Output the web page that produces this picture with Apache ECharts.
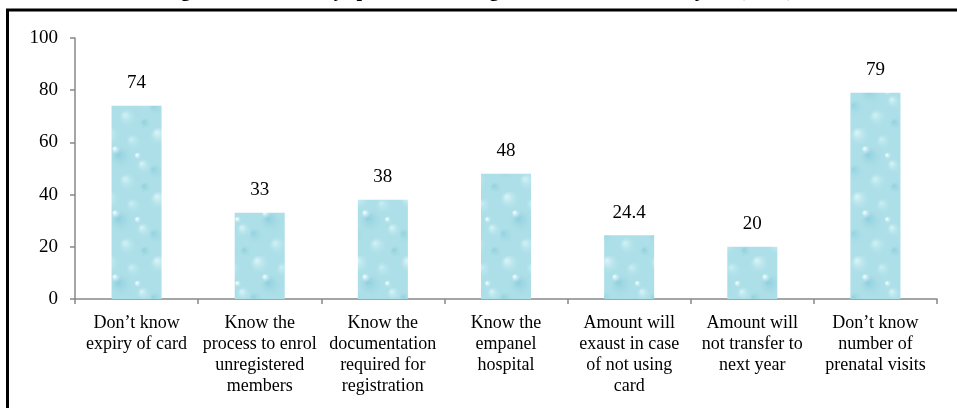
<!DOCTYPE html>
<html>
<head>
<meta charset="utf-8">
<script src="https://cdn.jsdelivr.net/npm/echarts@6/dist/echarts.min.js"></script>
<style>
  html, body { margin: 0; padding: 0; background: #ffffff; }
  #chart { width: 957px; height: 408px; }
</style>
</head>
<body>
<div id="chart"></div>
<script>
// Knowledge items and percentage of respondents
const categories = [
  'Don\u2019t know\nexpiry of card',
  'Know the\nprocess to enrol\nunregistered\nmembers',
  'Know the\ndocumentation\nrequired for\nregistration',
  'Know the\nempanel\nhospital',
  'Amount will\nexaust in case\nof not using\ncard',
  'Amount will\nnot transfer to\nnext year',
  'Don\u2019t know\nnumber of\nprenatal visits'
];
const values = [74, 33, 38, 48, 24.4, 20, 79];
const yTicks = { min: 0, max: 100, interval: 20 };
const titleText = 'Figure 5: Beneficiary specific knowledge about Bhamashah Yojana (n=50)';

// Water-drop texture used to fill the bars
function makeTexture() {
  const c = document.createElement('canvas');
  c.width = 50; c.height = 64;
  const g = c.getContext('2d');
  g.fillStyle = '#addfe8';
  g.fillRect(0, 0, c.width, c.height);
  const drops = [
    [10, 8, 11, '#d6f2f6'], [34, 14, 9, '#c4ecf2'], [22, 30, 13, '#92d1de'],
    [44, 38, 8, '#d0f0f5'], [6, 44, 9, '#98d5e1'], [28, 54, 10, '#cdeff4'],
    [46, 60, 7, '#96d3df'], [16, 22, 5, '#e4f7fa'], [38, 28, 4, '#e8f8fb']
  ];
  drops.forEach(([x, y, r, col]) => {
    const rg = g.createRadialGradient(x - r * 0.3, y - r * 0.3, 1, x, y, r);
    rg.addColorStop(0, col);
    rg.addColorStop(1, 'rgba(173,223,232,0)');
    g.fillStyle = rg;
    for (const dx of [-50, 0, 50]) {
      for (const dy of [-64, 0, 64]) {
        g.beginPath();
        g.arc(x + dx, y + dy, r, 0, Math.PI * 2);
        g.fill();
      }
    }
  });
  return c;
}

const serif = '"Liberation Serif", "Times New Roman", serif';
const chart = echarts.init(document.getElementById('chart'), null, { renderer: 'canvas' });

chart.setOption({
  backgroundColor: '#ffffff',
  animation: false,
  title: {
    text: titleText,
    left: 'center',
    top: -24,
    textStyle: { fontFamily: serif, fontSize: 20, fontWeight: 'bold', color: '#000' }
  },
  graphic: [{
    type: 'rect',
    shape: { x: 7.5, y: 10, width: 990, height: 430 },
    style: { fill: null, stroke: '#000', lineWidth: 3 },
    silent: true,
    z: 100
  }],
  grid: { left: 75, right: 20, top: 38, bottom: 109, containLabel: false },
  xAxis: {
    type: 'category',
    data: categories,
    boundaryGap: true,
    axisLine: { lineStyle: { color: '#888888', width: 1.5 } },
    axisTick: { show: true, alignWithLabel: false, length: 5, lineStyle: { color: '#888888', width: 1.5 } },
    axisLabel: {
      interval: 0,
      margin: 14,
      fontFamily: serif,
      fontSize: 18,
      lineHeight: 21,
      color: '#000',
      align: 'center',
      verticalAlign: 'top'
    }
  },
  yAxis: {
    type: 'value',
    min: yTicks.min,
    max: yTicks.max,
    interval: yTicks.interval,
    splitLine: { show: false },
    axisLine: { show: true, lineStyle: { color: '#888888', width: 1.5 } },
    axisTick: { show: true, length: 5, lineStyle: { color: '#888888', width: 1.5 } },
    axisLabel: { margin: 17, fontFamily: serif, fontSize: 19, color: '#000' }
  },
  series: [{
    type: 'bar',
    data: values,
    barWidth: 50,
    itemStyle: { color: { image: makeTexture(), repeat: 'repeat' } },
    label: {
      show: true,
      position: 'top',
      distance: 13,
      fontFamily: serif,
      fontSize: 19,
      color: '#000'
    }
  }]
});
</script>
</body>
</html>
